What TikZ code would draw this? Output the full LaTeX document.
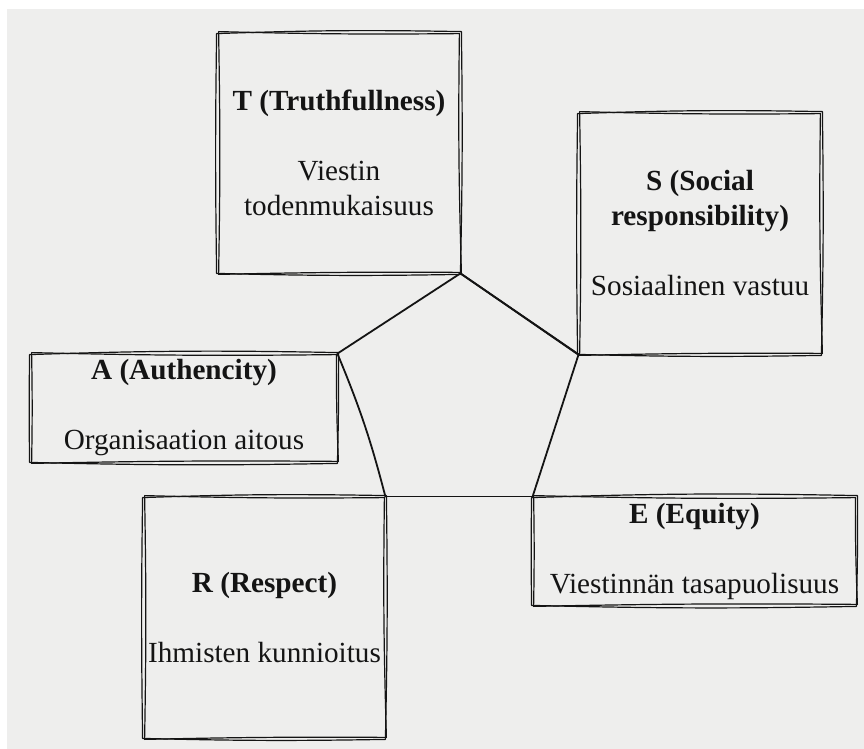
\documentclass[tikz,border=0pt]{standalone}
\usepackage{fontspec}
\setmainfont{Liberation Serif}
\definecolor{bg}{RGB}{238,238,237}
\definecolor{ink}{RGB}{20,20,20}
\tikzset{
  card/.style={align=center, inner sep=0pt, draw=none, text=ink,
    font=\fontsize{14.6}{17.5}\selectfont},
  sk/.style={line width=0.6pt, draw=ink, line join=round, line cap=round},
  pent/.style={line width=0.9pt, draw=ink, line join=round, line cap=round}
}
\newcommand\skbox[1]{%
  \draw[sk] ([shift={(-1,1)}]#1.north west) to[bend left=1.5]
    ([shift={(1,-1)}]#1.north east) to[bend left=1]
    ([shift={(0,1)}]#1.south east) to[bend left=1.2]
    ([shift={(-1,0)}]#1.south west) to[bend left=0.8]
    ([shift={(-1,1)}]#1.north west);
  \draw[sk] ([shift={(1,-1)}]#1.north west) to[bend right=1]
    ([shift={(-1,1)}]#1.north east) to[bend right=1.2]
    ([shift={(1,-1)}]#1.south east) to[bend right=0.8]
    ([shift={(1,1)}]#1.south west) to[bend right=1]
    ([shift={(1,-1)}]#1.north west);
}
\begin{document}
\begin{tikzpicture}[x=0.5pt,y=-0.5pt]
\fill[white] (0,0) rectangle (864,749);
\fill[bg] (7,9) rectangle (864,749);
\useasboundingbox (0,0) rectangle (864,749);

\node[card, minimum width=121pt, minimum height=120pt] (T) at (339,153)
  {\textbf{T (Truthfullness)}\\[17.5pt]Viestin\\todenmukaisuus};
\node[card, minimum width=121pt, minimum height=120.5pt] (S) at (700,233.5)
  {\textbf{S (Social}\\\textbf{responsibility)}\\[17.5pt]Sosiaalinen vastuu};
\node[card, minimum width=153pt, minimum height=54pt] (A) at (184,408)
  {\textbf{A (Authencity)}\\[17.5pt]Organisaation aitous};
\node[card, minimum width=120.5pt, minimum height=120.5pt] (R) at (264.5,617.5)
  {\textbf{R (Respect)}\\[17.5pt]Ihmisten kunnioitus};
\node[card, minimum width=161.5pt, minimum height=54pt] (E) at (694.5,551)
  {\textbf{E (Equity)}\\[17.5pt]Viestinnän tasapuolisuus};

\skbox{T}
\skbox{S}
\skbox{A}
\skbox{R}
\skbox{E}

\draw[pent] (T.south east) -- (S.south west);
\draw[pent] ([shift={(0.8,0.5)}]T.south east) -- ([shift={(0.5,0.8)}]S.south west);
\draw[pent] (S.south west) -- (E.north west);
\draw[pent] (R.north east) -- (E.north west);
\draw[pent] (A.north east) to[bend left=4] (R.north east);
\draw[pent] (T.south east) -- (A.north east);
\end{tikzpicture}
\end{document}
